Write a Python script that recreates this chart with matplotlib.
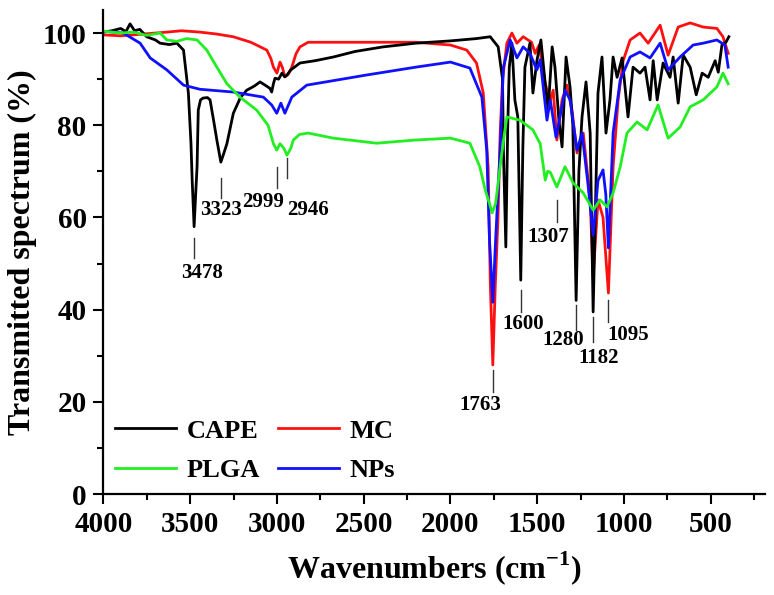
import matplotlib
matplotlib.use('Agg')
import matplotlib.pyplot as plt
from matplotlib.ticker import MultipleLocator

# CAPE (black)
cape_x = [4000, 3950, 3900, 3870, 3846, 3820, 3790, 3750, 3700, 3673, 3620, 3576, 3538, 3510,
          3495, 3488, 3477, 3468, 3460, 3453, 3440, 3425, 3400, 3385, 3360, 3346, 3323, 3305,
          3288, 3251, 3210, 3174, 3130, 3097, 3060, 3040, 3030, 3020, 3011, 2990, 2971, 2955,
          2942, 2920, 2867, 2780, 2675, 2550, 2388, 2200, 2000, 1850, 1771, 1725, 1700, 1695,
          1681, 1670, 1661, 1646, 1629, 1612, 1595, 1583, 1571, 1542, 1525, 1502, 1479, 1454,
          1437, 1414, 1398, 1375, 1357, 1334, 1311, 1295, 1276, 1260, 1242, 1219, 1195, 1178,
          1160, 1150, 1127, 1104, 1081, 1063, 1040, 1011, 977, 948, 908, 879, 850, 832, 809,
          775, 735, 717, 688, 659, 619, 584, 550, 515, 475, 457, 436, 413, 396]
cape_y = [100.2, 100.5, 101, 100.3, 102, 100.5, 100.8, 99.2, 98.5, 97.8, 97.5, 97.8, 96.3, 87,
          76, 68, 58, 65, 71, 83.3, 85.5, 85.9, 86, 85.5, 80, 76.8, 72, 74,
          76, 82.6, 86, 87.6, 88.5, 89.4, 88.5, 88, 87.2, 89, 90.2, 90, 91.3, 90.5,
          90.9, 92, 93.5, 94, 94.8, 96, 97, 97.8, 98.3, 98.8, 99.2, 97, 90, 74.6,
          53.6, 80, 92.6, 97.8, 85.5, 81.8, 46.4, 75, 92.6, 97.8, 87, 94, 98.5, 89,
          83.3, 97, 92.6, 81, 75.3, 94.8, 88.3, 80, 42, 70, 81.8, 89.4, 78.3, 39.5,
          70, 87, 94.8, 78.3, 85.5, 94.8, 90.4, 94.6, 81.8, 92.6, 91.3, 92.6, 85.5, 94, 85.5,
          93.5, 90.4, 94.8, 84.8, 95.2, 92.6, 86.6, 91.3, 90.4, 94, 91.5, 97.4, 98, 99.2]

# MC (red)
mc_x = [4000, 3900, 3828, 3700, 3634, 3550, 3443, 3350, 3252, 3150, 3058, 3035, 3020, 3000,
        2982, 2968, 2954, 2935, 2914, 2890, 2867, 2820, 2500, 2200, 2000, 1906, 1850, 1811,
        1783, 1770, 1756, 1742, 1726, 1714, 1700, 1675, 1646, 1617, 1581, 1533, 1512, 1489,
        1454, 1425, 1408, 1387, 1357, 1329, 1300, 1271, 1235, 1195, 1178, 1150, 1121, 1090,
        1063, 1034, 1005, 965, 908, 861, 792, 746, 688, 619, 544, 465, 430, 400]
mc_y = [99.6, 99.4, 99.6, 100, 100.2, 100.5, 100.2, 99.8, 99.2, 98, 96.3, 94.5, 92.6, 91.3,
        93.7, 92.5, 90.5, 91, 92.6, 95.5, 97, 98, 98, 98, 97.4, 96.3, 93.5, 87,
        71, 45, 28, 45, 60, 78, 89.8, 97.8, 100, 97.8, 99.2, 98, 95.6, 97.4,
        89, 85.5, 87.6, 76.8, 85.5, 88.7, 83.3, 74, 78.3, 63.8, 47, 63.8, 60, 43.6,
        71, 85.5, 94, 98.5, 100, 97.8, 101.7, 95.2, 101.3, 102.2, 101.3, 101, 99.2, 95.6]

# PLGA (green)
plga_x = [4000, 3900, 3828, 3750, 3673, 3634, 3576, 3520, 3460, 3404, 3346, 3288, 3213, 3117,
          3051, 3020, 3001, 2982, 2960, 2942, 2920, 2905, 2870, 2820, 2675, 2425, 2200, 2000,
          1888, 1831, 1800, 1775, 1760, 1740, 1714, 1690, 1675, 1600, 1525, 1483, 1454, 1440,
          1425, 1387, 1340, 1294, 1235, 1178, 1138, 1098, 1063, 1022, 983, 925, 867, 804,
          746, 677, 619, 544, 465, 430, 400]
plga_y = [100.4, 100, 100.2, 99.5, 100, 98.5, 98.2, 98.8, 98.5, 96.3, 92.6, 89, 86.1, 83.3,
          80, 76, 74.6, 76, 75, 73.5, 75, 76.8, 78, 78.3, 77.2, 76.1, 76.8, 77.2,
          76.1, 71, 66, 63, 61, 63, 71, 78, 81.8, 81.1, 79, 76, 68.1, 70,
          69.8, 66.6, 71, 67.5, 65.3, 61.6, 63.8, 62.3, 65.3, 71, 78.3, 80.7, 79, 84.4,
          77.2, 79.6, 84, 85.5, 88.3, 91.3, 89]

# NPs (blue)
nps_x = [4000, 3885, 3788, 3730, 3634, 3538, 3443, 3251, 3078, 3030, 3001, 2977, 2954, 2914,
         2828, 2483, 2200, 2000, 1888, 1819, 1791, 1775, 1756, 1740, 1714, 1695, 1656, 1617,
         1581, 1542, 1502, 1483, 1444, 1425, 1392, 1340, 1311, 1271, 1242, 1210, 1178, 1150,
         1121, 1105, 1090, 1063, 1022, 965, 908, 850, 792, 746, 677, 602, 544, 465, 419, 400]
nps_y = [100.4, 100, 97.8, 94.6, 92, 88.7, 87.8, 87.2, 86.1, 84.4, 82.6, 84.8, 82.6, 86.1,
         88.7, 90.9, 92.6, 93.7, 92.4, 86.1, 74.6, 55, 41.6, 55, 74.6, 92.6, 98.5, 94.6,
         97, 95.6, 92, 94.2, 81.1, 85.5, 77.4, 87.6, 85.5, 74.6, 78.3, 68, 56.2, 68,
         70.3, 65, 53.4, 78.3, 89.8, 94.8, 95.9, 94.6, 97.8, 92, 94.8, 97.4, 97.8, 98.5, 97.4, 92.6]

# peak labels
peak_labels = ['3478', '3323', '2999', '2946', '1763', '1600', '1307', '1280', '1182', '1095']
peak_x = [3477, 3323, 3001, 2943, 1756, 1595, 1387, 1276, 1176, 1090]
peak_top = [55.5, 68.5, 71, 73, 26.9, 44.3, 63.8, 41, 38.5, 42]
peak_bot = [51.2, 64.2, 66.4, 68.5, 22.2, 39.5, 59.1, 35.6, 33, 37.4]
label_x = [3431, 3323, 3077, 2823, 1829, 1581, 1437, 1351, 1144, 976]
label_y = [48, 61.6, 63.4, 61.6, 19.3, 36.9, 55.7, 33.4, 29.5, 34.5]

plt.rcParams['font.family'] = ['Liberation Serif', 'DejaVu Serif']
plt.rcParams['font.weight'] = 'bold'
plt.rcParams['mathtext.fontset'] = 'custom'
plt.rcParams['mathtext.rm'] = 'Liberation Serif:bold'
plt.rcParams['mathtext.bf'] = 'Liberation Serif:bold'

fig = plt.figure(figsize=(7.74, 5.95), dpi=100)
ax = fig.add_axes([0.1335, 0.1697, 0.8555, 0.8135])

lw = 2
l_mc, = ax.plot(mc_x, mc_y, color='#ff1010', lw=lw, label='MC')
l_cape, = ax.plot(cape_x, cape_y, color='black', lw=lw, label='CAPE')
l_nps, = ax.plot(nps_x, nps_y, color='#1010ff', lw=lw, label='NPs')
l_plga, = ax.plot(plga_x, plga_y, color='#22ee22', lw=lw, label='PLGA')

for i in range(len(peak_labels)):
    ax.plot([peak_x[i], peak_x[i]], [peak_bot[i], peak_top[i]], color='#333333', lw=1)
    ax.text(label_x[i], label_y[i], peak_labels[i], ha='center', va='center',
            fontsize=15, fontweight='bold')

ax.set_xlim(4000, 185)
ax.set_ylim(0, 105)
ax.xaxis.set_major_locator(MultipleLocator(500))
ax.xaxis.set_minor_locator(MultipleLocator(250))
ax.yaxis.set_major_locator(MultipleLocator(20))
ax.yaxis.set_minor_locator(MultipleLocator(10))
ax.set_xticks([4000, 3500, 3000, 2500, 2000, 1500, 1000, 500])

for s in ['top', 'right']:
    ax.spines[s].set_visible(False)
for s in ['left', 'bottom']:
    ax.spines[s].set_linewidth(1.6)

ax.tick_params(which='major', direction='out', length=7, width=1.5, labelsize=21, pad=5)
ax.tick_params(which='minor', direction='out', length=4, width=1.5)

ax.set_xlabel(r'Wavenumbers (cm$^{-1}$)', fontsize=23, fontweight='bold', labelpad=8)
ax.set_ylabel('Transmitted spectrum (%)', fontsize=23, fontweight='bold', labelpad=4)

ax.legend(handles=[l_cape, l_plga, l_mc, l_nps], ncol=2, frameon=False,
          loc='lower left', bbox_to_anchor=(0.018, 0.025), borderpad=0, borderaxespad=0,
          handlelength=2.3, handletextpad=0.4, columnspacing=0.7, labelspacing=0.6,
          prop={'size': 19, 'weight': 'bold'})

fig.savefig('out.png', dpi=100)
